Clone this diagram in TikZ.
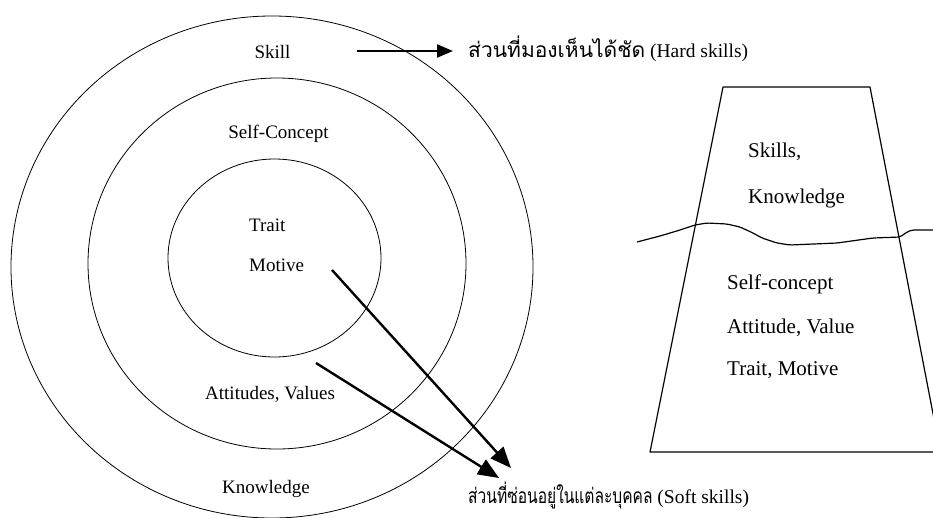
\documentclass[tikz,border=0pt]{standalone}
\usepackage{fontspec}
\setmainfont{Liberation Serif}
\newfontfamily\thaifont[Script=Thai]{Loma}
\usetikzlibrary{arrows.meta}

\begin{document}
\begin{tikzpicture}[x=1pt,y=-1pt,
  ring/.style={draw=black,line width=0.8pt},
  layer/.style={font=\fontsize{19}{22}\selectfont,inner sep=0pt},
  iceword/.style={font=\fontsize{21}{24}\selectfont,inner sep=0pt,anchor=base west},
  note/.style={font=\fontsize{19.5}{22}\selectfont,inner sep=0pt,anchor=base west},
  pointer/.style={line width=2.2pt,-{Triangle[length=16pt,width=13pt]}},
  bigpointer/.style={line width=2.4pt,-{Triangle[length=21pt,width=17pt]}},
  outline/.style={draw=black,line width=1.2pt,line join=round}]

  \clip (0,0) rectangle (933,517);

  % competency rings
  \draw[ring] (272,267) ellipse [x radius=261pt, y radius=251pt];
  \draw[ring] (277,263.5) ellipse [x radius=189pt, y radius=185.5pt];
  \draw[ring] (274.5,258) ellipse [x radius=106.5pt, y radius=99pt];

  % ring labels
  \node[layer,anchor=base] (skill) at (272.5,58) {Skill};
  \node[layer,anchor=base] (selfc) at (278.5,138) {Self-Concept};
  \node[layer,anchor=base west] (trait) at (249,231) {Trait};
  \node[layer,anchor=base west] (motive) at (249,271) {Motive};
  \node[layer,anchor=base west] (attval) at (205,399) {Attitudes, Values};
  \node[layer,anchor=base west] (knowl) at (222,493) {Knowledge};

  % descriptions
  \node[note] (hard) at (468,57)
    {{\fontsize{21}{24}\thaifont ส่วนที่มองเห็นได้ชัด} (Hard skills)};
  \node[note] (soft) at (468,503)
    {\scalebox{0.74}[1]{\fontsize{21}{24}\thaifont ส่วนที่ซ่อนอยู่ในแต่ละบุคคล} (Soft skills)};

  % arrows
  \coordinate (hardtail) at (357,51);
  \coordinate (hardtip) at (453,51);
  \draw[pointer] (hardtail) -- (hardtip);

  \coordinate (motivetail) at (332,270);
  \coordinate (motivetip) at (511,468);
  \draw[bigpointer] (motivetail) -- (motivetip);

  \coordinate (valuetail) at (316,363);
  \coordinate (valuetip) at (499,478);
  \draw[bigpointer] (valuetail) -- (valuetip);

  % iceberg
  \draw[outline] (940,452) -- (650,452) -- (723,87) -- (870,87) -- (940,450);
  \draw[outline,rounded corners=2pt]
    (637,242) -- (660,236) -- (680,230) -- (695,225) -- (707,223) -- (727,224)
    -- (740,227) -- (753,233) -- (762,238) -- (777,243) -- (790,245)
    -- (837,243) -- (873,238) -- (900,237) -- (907,232) -- (912,230) -- (935,230);

  \node[iceword] (iskills) at (748,157) {Skills,};
  \node[iceword] (iknow) at (748,203) {Knowledge};
  \node[iceword] (iself) at (727,289) {Self-concept};
  \node[iceword] (iatt) at (727,333) {Attitude, Value};
  \node[iceword] (itrait) at (727,375) {Trait, Motive};
\end{tikzpicture}
\end{document}
